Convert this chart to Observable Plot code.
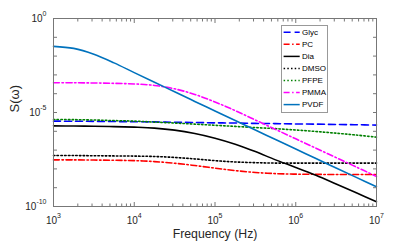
<!DOCTYPE html>
<html><head><meta charset="utf-8">
<script src="https://cdn.jsdelivr.net/npm/d3@7"></script>
<script src="https://cdn.jsdelivr.net/npm/@observablehq/plot@0.6"></script>
<style>
body{margin:0;background:#fff;}
#chart{position:relative;width:415px;height:244px;font-family:"Liberation Sans",Arial,Helvetica,sans-serif;}
#legend{position:absolute;left:0;top:0;pointer-events:none;}
</style></head><body>
<div id="chart"></div>
<script>
// Frequency (Hz)
const freq = [1e3, 1.78e3, 3.16e3, 5.62e3, 1e4, 1.78e4, 3.16e4, 5.62e4, 1e5, 1.78e5, 3.16e5, 5.62e5, 1e6, 1.78e6, 3.16e6, 5.62e6, 1e7];
// S(omega) per series
const glyc = [3.47e-6, 3.43e-6, 3.39e-6, 3.31e-6, 3.24e-6, 3.16e-6, 3.02e-6, 2.95e-6, 2.82e-6, 2.75e-6, 2.63e-6, 2.57e-6, 2.45e-6, 2.40e-6, 2.29e-6, 2.24e-6, 2.14e-6];
const pc   = [3.02e-8, 3.02e-8, 2.95e-8, 2.88e-8, 2.75e-8, 2.45e-8, 2.00e-8, 1.51e-8, 1.10e-8, 8.13e-9, 6.46e-9, 5.62e-9, 5.25e-9, 5.13e-9, 5.01e-9, 5.01e-9, 5.01e-9];
const dia  = [1.95e-6, 1.91e-6, 1.86e-6, 1.78e-6, 1.66e-6, 1.48e-6, 1.15e-6, 7.59e-7, 4.27e-7, 2.04e-7, 8.32e-8, 3.02e-8, 1.20e-8, 4.57e-9, 1.58e-9, 5.37e-10, 1.78e-10];
const dmso = [5.13e-8, 5.13e-8, 5.01e-8, 4.90e-8, 4.79e-8, 4.57e-8, 4.07e-8, 3.39e-8, 2.75e-8, 2.34e-8, 2.14e-8, 2.04e-8, 2.04e-8, 2.04e-8, 2.04e-8, 2.04e-8, 2.04e-8];
const pfpe = [4.27e-6, 4.17e-6, 3.98e-6, 3.72e-6, 3.47e-6, 3.09e-6, 2.75e-6, 2.40e-6, 2.09e-6, 1.82e-6, 1.58e-6, 1.38e-6, 1.17e-6, 9.77e-7, 7.94e-7, 6.31e-7, 4.90e-7];
const pmma = [3.80e-4, 3.80e-4, 3.72e-4, 3.55e-4, 3.31e-4, 2.75e-4, 1.82e-4, 9.12e-5, 3.63e-5, 1.26e-5, 3.98e-6, 1.26e-6, 3.98e-7, 1.26e-7, 3.98e-8, 1.26e-8, 3.98e-9];
const pvdf = [3.31e-2, 2.57e-2, 1.26e-2, 4.37e-3, 1.32e-3, 4.07e-4, 1.26e-4, 3.89e-5, 1.20e-5, 3.72e-6, 1.17e-6, 3.63e-7, 1.15e-7, 3.55e-8, 1.12e-8, 3.55e-9, 1.12e-9];

const names = ["Glyc", "PC", "Dia", "DMSO", "PFPE", "PMMA", "PVDF"];
const seriesValues = [glyc, pc, dia, dmso, pfpe, pmma, pvdf];
const xMajor = [1e3, 1e4, 1e5, 1e6, 1e7];
const yMajor = [1e-10, 1e-9, 1e-8, 1e-7, 1e-6, 1e-5, 1e-4, 1e-3, 1e-2, 1e-1, 1e0];
const yLabeled = [1e-10, 1e-5, 1e0];

// styles
const colors = ["#0000ff", "#ff0000", "#000000", "#000000", "#008000", "#ff00ff", "#0072bd"];
const dashes = ["7,4", "6,2.5,1.5,2.5", null, "1.5,2.2", "1.5,2.2", "6,2.5,1.5,2.5", null];

const rows = names.flatMap((n, i) => freq.map((f, j) => ({name: n, f, s: seriesValues[i][j]})));

const xMinor = [];
for (let d = 3; d < 7; d++) for (let k = 2; k <= 9; k++) xMinor.push(k * 10 ** d);

const expFmt = v => "10^" + Math.round(Math.log10(v));
const axisStroke = "#777";
const textFill = "#262626";

const plot = Plot.plot({
  width: 415, height: 244,
  marginLeft: 53, marginRight: 39, marginTop: 18, marginBottom: 38,
  style: {fontFamily: '"Liberation Sans", Arial, Helvetica, sans-serif', fontSize: "10px", background: "#fff", overflow: "visible"},
  x: {type: "log", domain: [1e3, 1e7]},
  y: {type: "log", domain: [1e-10, 1e0]},
  marks: [
    ...names.map((n, i) => Plot.line(rows.filter(r => r.name === n), {
      x: "f", y: "s", stroke: colors[i], strokeWidth: 1.6,
      strokeDasharray: dashes[i] ?? undefined, curve: "catmull-rom"
    })),
    Plot.frame({stroke: axisStroke, strokeWidth: 1}),
    // ticks (inward) on all four sides
    Plot.axisX(xMajor, {anchor: "bottom", tickSize: -4, tickFormat: () => "", stroke: axisStroke, label: null}),
    Plot.axisX(xMajor, {anchor: "top", tickSize: -4, tickFormat: () => "", stroke: axisStroke, label: null}),
    Plot.axisX(xMinor, {anchor: "bottom", tickSize: -2.5, tickFormat: () => "", stroke: axisStroke, label: null}),
    Plot.axisX(xMinor, {anchor: "top", tickSize: -2.5, tickFormat: () => "", stroke: axisStroke, label: null}),
    Plot.axisY(yMajor, {anchor: "left", tickSize: -4, tickFormat: () => "", stroke: axisStroke, label: null}),
    Plot.axisY(yMajor, {anchor: "right", tickSize: -4, tickFormat: () => "", stroke: axisStroke, label: null}),
    // tick labels
    Plot.axisX(xMajor, {anchor: "bottom", tickSize: 0, tickPadding: 10, tickFormat: expFmt, fill: textFill, label: null}),
    Plot.axisY(yLabeled, {anchor: "left", tickSize: 0, tickPadding: 7, tickFormat: expFmt, fill: textFill, label: null}),
    // axis titles
    Plot.text(["Frequency (Hz)"], {frameAnchor: "bottom", dy: 31, text: d => d, fontSize: 12.3, fill: textFill}),
    Plot.text(["S(ω)"], {frameAnchor: "left", dx: -39, rotate: -90, text: d => d, fontSize: 13, fill: textFill})
  ]
});

// superscript exponents
d3.select(plot).selectAll("text").each(function() {
  const t = this.textContent;
  if (!/^10\^/.test(t)) return;
  const [base, ex] = t.split("^");
  this.textContent = "";
  d3.select(this).append("tspan").text(base);
  d3.select(this).append("tspan").attr("dy", "-5.5").attr("font-size", "7px").text(ex);
});

const chart = document.getElementById("chart");
chart.appendChild(plot);

// legend overlay
const lg = d3.select(chart).append("svg").attr("id", "legend").attr("width", 415).attr("height", 244);
lg.append("rect").attr("x", 281.5).attr("y", 25.5).attr("width", 46).attr("height", 87)
  .attr("fill", "#fff").attr("stroke", "#999").attr("stroke-width", 1);
names.forEach((n, i) => {
  const y = 32.3 + i * 12.05;
  const ln = lg.append("line").attr("x1", 283.6).attr("x2", 299.7).attr("y1", y).attr("y2", y)
    .attr("stroke", colors[i]).attr("stroke-width", 1.5);
  if (dashes[i]) ln.attr("stroke-dasharray", dashes[i]);
  lg.append("text").attr("x", 302).attr("y", y).attr("dy", "0.35em")
    .attr("font-size", "8px").attr("fill", "#000")
    .attr("font-family", '"Liberation Sans", Arial, Helvetica, sans-serif').text(n);
});
</script>
</body></html>
